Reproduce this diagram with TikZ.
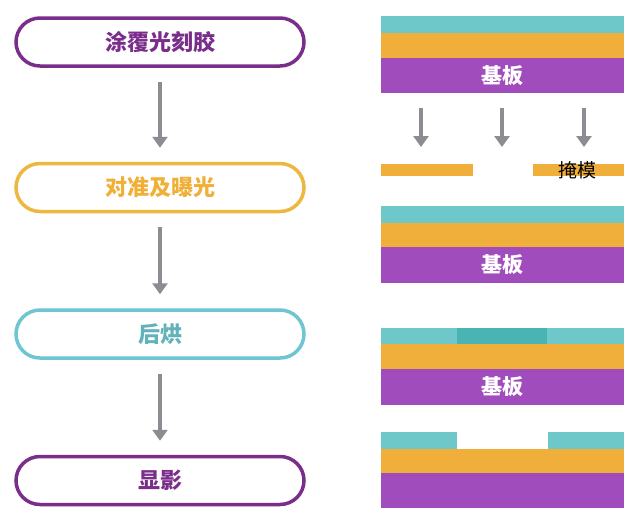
\documentclass[tikz,border=0pt]{standalone}
\usepackage{fontspec}
\newfontfamily\cjk{Noto Sans CJK SC}
\usetikzlibrary{arrows.meta,positioning}
\definecolor{stepviolet}{HTML}{7B2D8B}
\definecolor{stepamber}{HTML}{EDB83F}
\definecolor{stepteal}{HTML}{6DC6D0}
\definecolor{layerteal}{HTML}{6EC8CA}
\definecolor{layerdark}{HTML}{4AB3B3}
\definecolor{layeramber}{HTML}{F0AE3A}
\definecolor{layerviolet}{HTML}{A04CBC}
\definecolor{flowgray}{HTML}{8C8C92}

\begin{document}
\begin{tikzpicture}[
    x=1pt, y=-1pt,
    every node/.style={font=\cjk},
    pill/.style={rectangle, rounded corners=24pt, line width=3.5pt, fill=white,
                 minimum width=288pt, minimum height=48pt, inner sep=0pt,
                 font=\cjk\bfseries\fontsize{22}{22}\selectfont},
    flow/.style={-{Triangle[width=15pt,length=11pt]}, line width=4pt, flowgray,
                 shorten <=14pt, shorten >=14pt},
    drop/.style={-{Triangle[width=15pt,length=11pt]}, line width=4pt, flowgray},
    sublabel/.style={text=white, font=\cjk\bfseries\fontsize{21}{21}\selectfont},
]
\useasboundingbox[fill=white] (0,0) rectangle (640,523);

% --- Process steps ---
\node[pill, draw=stepviolet, text=stepviolet] (coat) at (160,42) {涂覆光刻胶};
\node[pill, draw=stepamber, text=stepamber!85!orange, below=94pt of coat] (expose) {对准及曝光};
\node[pill, draw=stepteal, text=stepteal!90!black, below=95pt of expose] (bake) {后烘};
\node[pill, draw=stepviolet, text=stepviolet, below=95pt of bake] (develop) {显影};

% --- Step arrows ---
\draw[flow] (coat) -- (expose);
\draw[flow] (expose) -- (bake);
\draw[flow] (bake) -- (develop);

% --- Stack 1: coated wafer ---
\fill[layerteal] (381,16) rectangle (624,33);
\fill[layeramber] (381,33) rectangle (624,58);
\fill[layerviolet] (381,58) rectangle (624,93);
\node[sublabel] (base1) at (502.5,75.5) {基板};

% --- Light through mask ---
\foreach \x/\n in {421/a, 502/b, 584/c} {
  \coordinate (src\n) at (\x,108);
  \coordinate (dst\n) at (\x,147);
  \draw[drop] (src\n) -- (dst\n);
}
\fill[layeramber] (381,164) rectangle (473,176);
\fill[layeramber] (533,164) rectangle (624,176);
\node[font=\cjk\fontsize{19}{19}\selectfont] (mask) at (577,170) {掩模};

% --- Stack 2: after exposure ---
\fill[layerteal] (381,206) rectangle (624,223);
\fill[layeramber] (381,223) rectangle (624,247);
\fill[layerviolet] (381,247) rectangle (624,283);
\node[sublabel] (base2) at (502.5,265) {基板};

% --- Stack 3: after bake ---
\fill[layerteal] (381,328) rectangle (624,344);
\fill[layerdark] (457,328) rectangle (547,344);
\fill[layeramber] (381,344) rectangle (624,369);
\fill[layerviolet] (381,369) rectangle (624,405);
\node[sublabel] (base3) at (502.5,387) {基板};

% --- Stack 4: developed ---
\fill[layerteal] (381,432) rectangle (457,449);
\fill[layerteal] (548,432) rectangle (624,449);
\fill[layeramber] (381,449) rectangle (624,473);
\fill[layerviolet] (381,473) rectangle (624,508);

\end{tikzpicture}
\end{document}
